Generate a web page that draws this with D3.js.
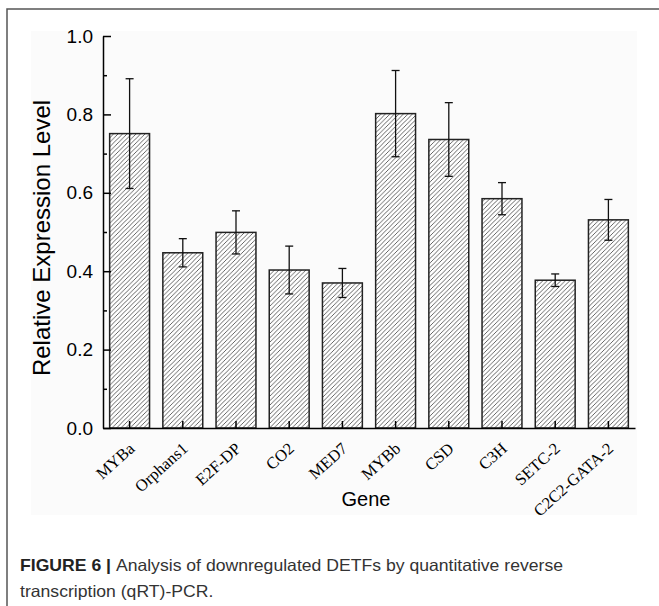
<!DOCTYPE html>
<html>
<head>
<meta charset="utf-8">
<script src="https://cdn.jsdelivr.net/npm/d3@7"></script>
<style>
  html, body { margin: 0; padding: 0; background: #fff; }
  svg { display: block; }
</style>
</head>
<body>
<svg id="chart" width="659" height="606"></svg>
<script>
// ---- data ----
const genes = ["MYBa", "Orphans1", "E2F-DP", "CO2", "MED7", "MYBb", "CSD", "C3H", "SETC-2", "C2C2-GATA-2"];
const values = [0.751, 0.447, 0.499, 0.403, 0.370, 0.802, 0.736, 0.585, 0.377, 0.531];
const errors = [0.140, 0.036, 0.055, 0.061, 0.037, 0.110, 0.094, 0.041, 0.016, 0.052];
const yTicks = [0.0, 0.2, 0.4, 0.6, 0.8, 1.0];
const yMinorTicks = [0.1, 0.3, 0.5, 0.7, 0.9];
const yTitle = "Relative Expression Level";
const xTitle = "Gene";
const captionBold = "FIGURE 6 | ";
const captionLine1 = "Analysis of downregulated DETFs by quantitative reverse";
const captionLine2 = "transcription (qRT)-PCR.";

// ---- layout ----
const svg = d3.select("#chart");
const plot = { left: 103, right: 635, top: 36, bottom: 428 };

// outer figure frame (open at right/bottom, cropped)
svg.append("rect")
  .attr("x", 7).attr("y", 9).attr("width", 700).attr("height", 700)
  .attr("fill", "#fff").attr("stroke", "#555").attr("stroke-width", 1.5);

// faint plot image background
svg.append("rect")
  .attr("x", 31).attr("y", 31).attr("width", 606).attr("height", 484)
  .attr("fill", "#fbfbfb");

// hatch pattern
const defs = svg.append("defs");
const pat = defs.append("pattern")
  .attr("id", "hatch").attr("patternUnits", "userSpaceOnUse")
  .attr("width", 4.5).attr("height", 4.5);
pat.append("rect").attr("width", 4.5).attr("height", 4.5).attr("fill", "#fff");
pat.append("path")
  .attr("d", "M0,4.5 L4.5,0 M-1,1 L1,-1 M3.5,5.5 L5.5,3.5")
  .attr("stroke", "#555").attr("stroke-width", 0.9);

const x = d3.scaleBand()
  .domain(genes)
  .range([plot.left, plot.right])
  .paddingInner(0.25)
  .paddingOuter(0.125);

const y = d3.scaleLinear()
  .domain([0, 1])
  .range([plot.bottom, plot.top]);

const data = genes.map((g, i) => ({ g, v: values[i], e: errors[i] }));

// bars
svg.append("g").selectAll("rect")
  .data(data).join("rect")
  .attr("x", d => x(d.g))
  .attr("y", d => y(d.v))
  .attr("width", x.bandwidth())
  .attr("height", d => y(0) - y(d.v))
  .attr("fill", "url(#hatch)")
  .attr("stroke", "#222")
  .attr("stroke-width", 1.5);

// error bars
const eb = svg.append("g").attr("stroke", "#111").attr("stroke-width", 1.3);
eb.selectAll("line.v").data(data).join("line")
  .attr("class", "v")
  .attr("x1", d => x(d.g) + x.bandwidth() / 2)
  .attr("x2", d => x(d.g) + x.bandwidth() / 2)
  .attr("y1", d => y(d.v + d.e))
  .attr("y2", d => y(d.v - d.e));
eb.selectAll("line.t").data(data).join("line")
  .attr("class", "t")
  .attr("x1", d => x(d.g) + x.bandwidth() / 2 - 4)
  .attr("x2", d => x(d.g) + x.bandwidth() / 2 + 4)
  .attr("y1", d => y(d.v + d.e))
  .attr("y2", d => y(d.v + d.e));
eb.selectAll("line.b").data(data).join("line")
  .attr("class", "b")
  .attr("x1", d => x(d.g) + x.bandwidth() / 2 - 4)
  .attr("x2", d => x(d.g) + x.bandwidth() / 2 + 4)
  .attr("y1", d => y(d.v - d.e))
  .attr("y2", d => y(d.v - d.e));

// y axis
const yAxisG = svg.append("g")
  .attr("transform", `translate(${plot.left},0)`)
  .call(d3.axisLeft(y).tickValues(yTicks).tickFormat(d3.format(".1f"))
    .tickSize(-8).tickSizeOuter(0).tickPadding(10));
yAxisG.select(".domain").attr("stroke", "#000").attr("stroke-width", 1.5);
yAxisG.selectAll(".tick line").attr("stroke", "#000").attr("stroke-width", 1.5);
yAxisG.selectAll(".tick text")
  .attr("font-family", "'Liberation Sans', Arial, sans-serif")
  .attr("font-size", 19).attr("fill", "#000");

const yMinorG = svg.append("g")
  .attr("transform", `translate(${plot.left},0)`)
  .call(d3.axisLeft(y).tickValues(yMinorTicks).tickFormat("")
    .tickSize(-4).tickSizeOuter(0));
yMinorG.select(".domain").remove();
yMinorG.selectAll(".tick line").attr("stroke", "#000").attr("stroke-width", 1.5);

// x axis
const xAxisG = svg.append("g")
  .attr("transform", `translate(0,${plot.bottom})`)
  .call(d3.axisBottom(x).tickSize(-7).tickSizeOuter(0));
xAxisG.select(".domain").attr("stroke", "#000").attr("stroke-width", 1.5);
xAxisG.selectAll(".tick line").attr("stroke", "#000").attr("stroke-width", 1.5);
xAxisG.selectAll(".tick text")
  .attr("font-family", "'Liberation Serif', 'Times New Roman', serif")
  .attr("font-size", 16.5).attr("fill", "#000")
  .attr("text-anchor", "end")
  .attr("x", 0).attr("y", 0).attr("dy", 0)
  .attr("transform", "translate(6,22) rotate(-42)");

// axis titles
svg.append("text")
  .attr("transform", `translate(50,${(plot.top + plot.bottom) / 2 + 6}) rotate(-90)`)
  .attr("text-anchor", "middle")
  .attr("font-family", "'Liberation Sans', Arial, sans-serif")
  .attr("font-size", 24).attr("fill", "#000")
  .text(yTitle);

svg.append("text")
  .attr("x", 366).attr("y", 506)
  .attr("text-anchor", "middle")
  .attr("font-family", "'Liberation Sans', Arial, sans-serif")
  .attr("font-size", 20).attr("fill", "#000")
  .text(xTitle);

// caption
const cap1 = svg.append("text")
  .attr("x", 20).attr("y", 571)
  .attr("font-family", "'Liberation Sans', Arial, sans-serif")
  .attr("font-size", 16.5).attr("fill", "#333");
cap1.append("tspan").attr("font-weight", "bold").attr("fill", "#222").text(captionBold);
cap1.append("tspan").text(captionLine1);
const w1 = cap1.node().getComputedTextLength();
cap1.attr("textLength", 543).attr("lengthAdjust", "spacingAndGlyphs");

const cap2 = svg.append("text")
  .attr("x", 20).attr("y", 597)
  .attr("font-family", "'Liberation Sans', Arial, sans-serif")
  .attr("font-size", 16.5).attr("fill", "#333")
  .text(captionLine2);
const w2 = cap2.node().getComputedTextLength();
cap2.attr("textLength", w2 * 543 / w1).attr("lengthAdjust", "spacingAndGlyphs");
</script>
</body>
</html>
